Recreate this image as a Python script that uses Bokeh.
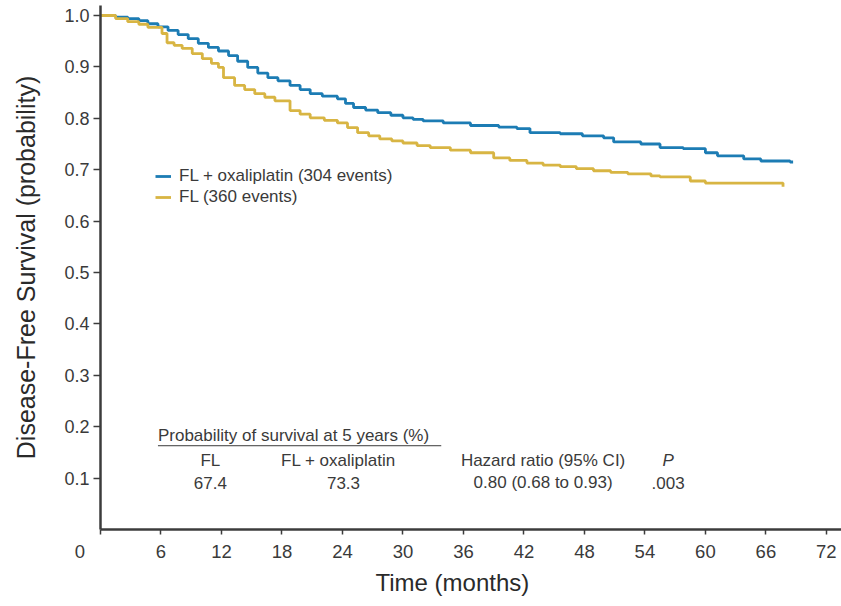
from bokeh.plotting import figure
from bokeh.models import (Range1d, FixedTicker, Legend, LegendItem, Label,
                          PrintfTickFormatter, Title)
from bokeh.embed import file_html
from bokeh.resources import INLINE

# Kaplan-Meier disease-free survival, FL + oxaliplatin arm
oxa_time = [0, 1.5, 2.7, 3.8, 4.7, 5.7, 6.7, 7.7, 8.7, 9.7, 10.7, 11.7, 12.7,
            13.6, 14.6, 15.6, 16.6, 17.6, 18.8, 19.8, 20.8, 22.0, 23.5, 24.3,
            25.1, 26.3, 27.5, 28.8, 30.0, 31.0, 32.0, 34.0, 36.7, 39.5, 41.3,
            42.6, 45.6, 47.8, 49.9, 50.9, 53.6, 55.5, 57.8, 60.0, 61.2, 63.8,
            65.5, 68.4, 68.7]
oxa_surv = [1.000, 0.997, 0.994, 0.990, 0.984, 0.978, 0.971, 0.963, 0.955,
            0.946, 0.938, 0.931, 0.922, 0.911, 0.899, 0.888, 0.879, 0.873,
            0.864, 0.856, 0.848, 0.843, 0.838, 0.829, 0.821, 0.816, 0.811,
            0.806, 0.801, 0.798, 0.795, 0.791, 0.786, 0.783, 0.780, 0.772,
            0.770, 0.766, 0.762, 0.754, 0.750, 0.743, 0.741, 0.733, 0.727,
            0.721, 0.717, 0.715, 0.715]

# Kaplan-Meier disease-free survival, FL arm
fl_time = [0, 1.5, 2.7, 3.8, 4.7, 6.1, 6.6, 7.3, 8.1, 9.1, 10.1, 11.0, 11.7,
           12.2, 13.3, 14.3, 15.3, 16.3, 17.3, 18.8, 19.8, 20.8, 22.2, 23.5,
           24.5, 25.5, 26.6, 27.7, 28.9, 30.0, 31.4, 32.7, 34.7, 36.7, 39.0,
           40.6, 42.3, 43.9, 45.6, 47.2, 48.9, 50.6, 52.3, 54.6, 55.5, 58.5,
           60.0, 67.7]
fl_surv = [1.000, 0.994, 0.988, 0.983, 0.977, 0.965, 0.947, 0.942, 0.936,
           0.926, 0.916, 0.907, 0.899, 0.879, 0.864, 0.856, 0.848, 0.841,
           0.834, 0.815, 0.808, 0.801, 0.796, 0.791, 0.782, 0.772, 0.766,
           0.760, 0.756, 0.752, 0.747, 0.743, 0.738, 0.733, 0.723, 0.718,
           0.713, 0.709, 0.706, 0.702, 0.698, 0.695, 0.692, 0.688, 0.686,
           0.678, 0.674, 0.667]

legend_labels = ["FL + oxaliplatin (304 events)", "FL (360 events)"]
x_ticks = [0, 6, 12, 18, 24, 30, 36, 42, 48, 54, 60, 66, 72]
y_ticks = [0.1, 0.2, 0.3, 0.4, 0.5, 0.6, 0.7, 0.8, 0.9, 1.0]

# summary table
table_title = "Probability of survival at 5 years (%)"
table_headers = ["FL", "FL + oxaliplatin", "Hazard ratio (95% CI)", "P"]
table_values = ["67.4", "73.3", "0.80 (0.68 to 0.93)", ".003"]

BLUE = "#1c7cb4"
GOLD = "#d8b543"
AXIS = "#3c3c3c"
TEXT = "#3a3a3a"
FONT = "Liberation Sans"
NBSP = "\u00a0"

p = figure(width=841, height=606, output_backend="svg", toolbar_location=None,
           x_range=Range1d(0, 73.5), y_range=Range1d(0, 1.0195),
           min_border_left=100, min_border_right=0, min_border_top=5,
           min_border_bottom=77)
p.outline_line_color = None
p.grid.visible = False
p.background_fill_color = "white"
p.border_fill_color = "white"

r_oxa = p.step(oxa_time, oxa_surv, mode="after", line_color=BLUE,
               line_width=2.8)
r_fl = p.step(fl_time, fl_surv, mode="after", line_color=GOLD,
              line_width=2.8)

# x axis; the origin label is pushed left of the corner with trailing spaces
xa = p.xaxis[0]
xa.ticker = FixedTicker(ticks=x_ticks)
xa.major_label_overrides = {0: "0" + NBSP * 8}
xa.axis_line_color = AXIS
xa.axis_line_width = 2.5
xa.major_tick_line_color = AXIS
xa.major_tick_line_width = 1.5
xa.major_tick_in = 0
xa.major_tick_out = 5
xa.minor_tick_line_color = None
xa.major_label_standoff = 6
xa.major_label_text_font = FONT
xa.major_label_text_font_size = "18.5px"
xa.major_label_text_color = TEXT

ya = p.yaxis[0]
ya.ticker = FixedTicker(ticks=y_ticks)
ya.formatter = PrintfTickFormatter(format="%.1f")
ya.axis_line_color = AXIS
ya.axis_line_width = 2.5
ya.major_tick_line_color = AXIS
ya.major_tick_line_width = 1.5
ya.major_tick_in = 0
ya.major_tick_out = 7
ya.minor_tick_line_color = None
ya.major_label_standoff = 4
ya.major_label_text_font = FONT
ya.major_label_text_font_size = "18px"
ya.major_label_text_color = TEXT
ya.axis_label = "Disease-Free Survival (probability)"
ya.axis_label_text_font = FONT
ya.axis_label_text_font_style = "normal"
ya.axis_label_text_font_size = "25px"
ya.axis_label_text_color = "#2a2a2a"
ya.axis_label_standoff = 21

# x-axis title
p.add_layout(Title(text="Time (months)", align="left", offset=275,
                   standoff=4, text_font=FONT, text_font_size="24px",
                   text_font_style="normal", text_color="#2a2a2a"), "below")

# legend
legend = Legend(items=[LegendItem(label=legend_labels[0], renderers=[r_oxa]),
                       LegendItem(label=legend_labels[1], renderers=[r_fl])],
                location=(55, 322), orientation="vertical",
                glyph_width=16, glyph_height=20, label_height=20,
                label_standoff=8, spacing=1, padding=0, margin=0,
                background_fill_alpha=0, border_line_alpha=0,
                label_text_font=FONT, label_text_font_size="17px",
                label_text_color=TEXT)
p.add_layout(legend)

# summary table inside the plot
TABLE_SIZE = "17px"
p.add_layout(Label(x=5.7, y=0.183, text=table_title, text_align="left",
                   text_baseline="middle", text_font=FONT,
                   text_font_size=TABLE_SIZE, text_color=TEXT))
p.segment(x0=[5.7], y0=[0.163], x1=[33.8], y1=[0.163],
          line_color=TEXT, line_width=1)

header_x = [10.9, 23.6, 43.9, 56.3]
value_x = [10.9, 24.1, 43.9, 56.3]
for i, h in enumerate(table_headers):
    p.add_layout(Label(x=header_x[i], y=0.134, text=h, text_align="center",
                       text_baseline="middle", text_font=FONT,
                       text_font_size=TABLE_SIZE, text_color=TEXT,
                       text_font_style="italic" if h == "P" else "normal"))
for i, v in enumerate(table_values):
    p.add_layout(Label(x=value_x[i], y=0.091, text=v, text_align="center",
                       text_baseline="middle", text_font=FONT,
                       text_font_size=TABLE_SIZE, text_color=TEXT))

open("out.html", "w").write(file_html(p, INLINE))
